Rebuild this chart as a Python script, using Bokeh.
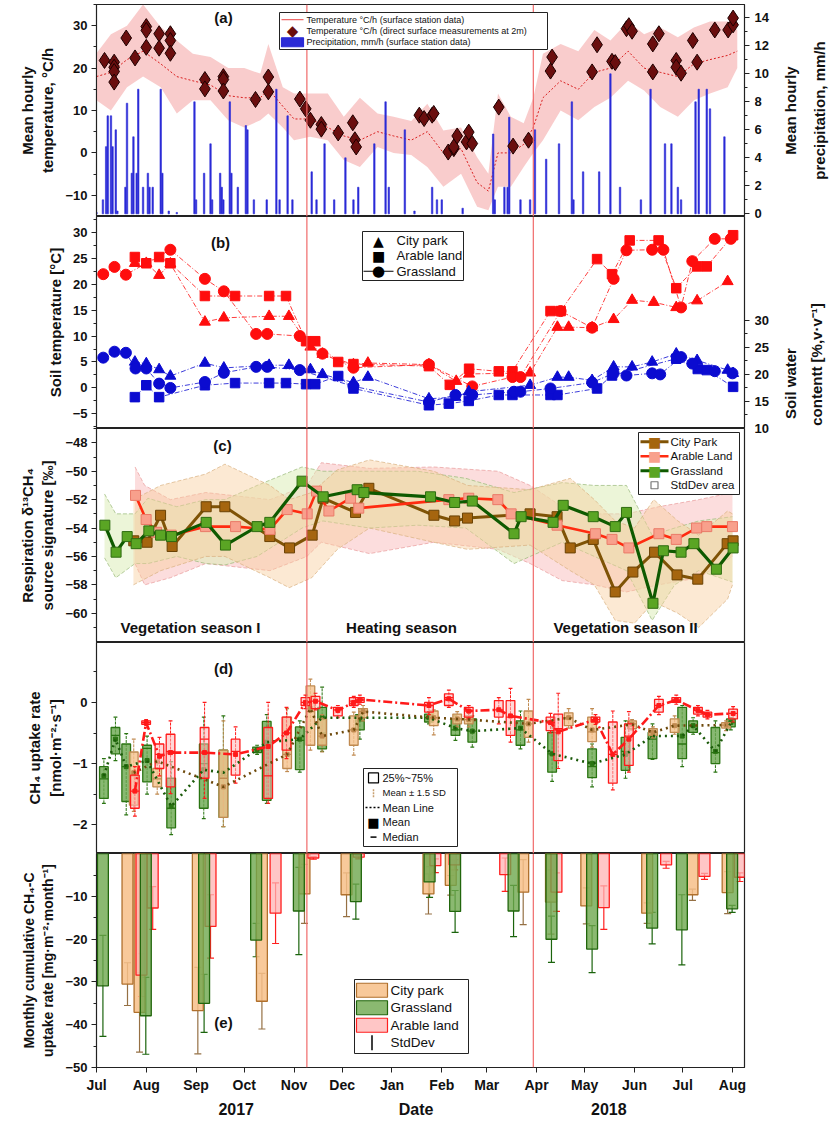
import math
from bokeh.plotting import figure
from bokeh.layouts import column, row
from bokeh.models import (Range1d, LinearAxis, FixedTicker, Span, Label, BoxAnnotation, Arrow,
                          ColumnDataSource, Whisker, TeeHead)
from bokeh.embed import file_html
from bokeh.resources import INLINE

FONT = "Liberation Sans"
SYM = "DejaVu Sans"

# ---------------- common x axis (days since 2017-07-01) ----------------
month_days = [0, 31, 62, 92, 123, 153, 184, 215, 243, 274, 304, 335, 365, 396]
month_labels = ["Jul", "Aug", "Sep", "Oct", "Nov", "Dec", "Jan", "Feb", "Mar", "Apr", "May", "Jun", "Jul", "Aug"]
bottom_row_days = [87, 199, 319]
bottom_row_labels = ["2017", "Date", "2018"]
divider_days = [131, 272]
season_names = ["Vegetation season I", "Heating season", "Vegetation season II"]

# ---------------- (a) air temperature / precipitation ----------------
temp_day = [0, 9, 19, 29, 40, 50, 60, 71, 82, 92, 102, 107, 116, 123, 133, 144, 154, 164, 175, 185,
            196, 206, 216, 227, 237, 244, 250, 258, 266, 272, 278, 289, 300, 310, 320, 331, 341, 351, 362, 372,
            382, 393, 399]
temp_high = [23.5, 28, 30, 35, 29.7, 26.5, 23.4, 22.6, 20, 20, 18.7, 25.7, 15.5, 14, 14, 14, 8.5, 13, 9.3, 8.5,
             7.5, 11.6, 5.3, 6, -1, -4.9, 14, 8.5, 7, 13, 23.4, 25.7, 24, 29, 26.5, 31, 28, 29.6, 27.3, 29.6,
             31, 31, 29]
temp_low = [12.4, 10, 15.5, 18, 15.5, 9.3, 12.4, 12.4, 7.7, 6, 7.7, 9.3, 6, 3, 3.8, 3, -1.7, -3.3, 1.4, 0,
            -0.5, -3.3, -8, -4.9, -12.7, -13.5, -8, -8, -3.3, 0, 3, 10, 7.7, 10.8, 13, 17, 14.7, 10.8, 8.5, 12.4,
            14, 15.5, 20]
temp_mean = [18, 19, 22, 24, 21, 18, 17, 16, 13.5, 13, 13, 15, 11, 8, 8, 6, 4, 3, 5, 4,
             3, 5, 0, 1, -7, -9, 0, 0, 2, 6, 13, 17, 15, 19, 20, 24, 20, 19, 18, 21,
             22, 23, 24]
diamond_day = [5, 11, 11, 11, 11, 18.5, 24, 31, 31, 31, 39, 39, 46, 46, 46, 67.5, 67.5, 79, 79, 79, 99, 107, 107,
               126.6, 130.3, 133.2, 140, 140, 150.5, 159.6, 160.9, 161.7,
               201, 204, 209, 210, 219, 222.5, 222.5, 224.6, 230.4, 231.8, 234, 250.5, 259.4, 269, 282.7, 283.7,
               308.6, 311.7, 321, 323, 330, 331.5, 333.5, 346.4, 346.4, 350.2, 361, 361, 364, 371.3, 374, 385,
               393.3, 396.4, 396.4]
diamond_temp = [21.8, 21.4, 20.2, 19.2, 16.7, 27.1, 22.4, 29.8, 28.9, 24.9, 28.1, 24.7, 28.1, 26.5, 23.5, 17.3, 15.1,
                18, 17.3, 14.6, 12.6, 17.9, 14.4, 12.7, 10.4, 7.7, 6.7, 5.6, 4.7, 7.1, 3.1, 1.4,
                8.9, 8.1, 8.9, 9.3, 0.2, 1.0, 1.4, 4.0, 2.6, 4.9, 2.2, 10.8, 1.6, 3.0, 19.3, 22.6,
                19.1, 25.5, 21.6, 21.3, 29.3, 30, 28.7, 25.7, 19.1, 28.1, 21.8, 20.2, 18.8, 26.5, 21.4, 29,
                29, 30.2, 31.8]
precip_day = [0, 4, 6, 7, 9, 10, 12, 13, 18, 19, 22, 23, 25, 26, 29, 32, 33, 35, 40, 41, 45, 50,
              61, 62, 67, 71, 72, 77, 78, 79, 83, 84, 88, 93, 94, 98, 106, 112, 114, 119, 122,
              134, 137, 142, 148, 155, 160, 163, 173, 180, 182, 192, 198, 209, 212, 215, 228,
              247, 248, 254, 256, 257, 264, 270, 273, 280, 288, 296, 297, 303, 313, 320, 326,
              339, 345, 354, 358, 362, 364, 373, 375, 380, 382, 391]
precip_mm = [0.1, 1.0, 4.8, 7.0, 7.0, 4.8, 6.0, 0.2, 1.9, 7.9, 2.9, 5.5, 2.9, 8.9, 1.9, 2.9, 1.9, 1.9, 8.9, 2.9, 0.2, 0.1,
             8.0, 1.0, 2.9, 5.0, 1.0, 2.9, 1.9, 1.0, 8.0, 2.9, 1.9, 6.3, 6.0, 1.0, 1.0, 8.9, 1.0, 7.0, 1.0,
             3.0, 1.0, 5.0, 1.0, 4.0, 1.0, 1.9, 5.0, 8.0, 1.9, 6.0, 0.2, 1.9, 1.0, 1.0, 0.4,
             5.7, 1.0, 1.9, 1.9, 6.9, 1.0, 1.0, 6.0, 3.9, 5.0, 8.0, 1.0, 3.0, 3.0, 10.0, 1.9,
             1.0, 8.9, 5.0, 5.0, 1.9, 1.0, 8.0, 8.9, 8.9, 7.5, 5.5]
precip_ticks = [0, 2, 4, 6, 8, 10, 12, 14]

# ---------------- (b) soil temperature (red) and soil water content (blue) ----------------
cp_t_day = [23.9, 31, 39, 46, 67.5, 79.3, 107.5, 119.8, 133.2, 140.7, 160, 169,
            207, 224, 232, 270, 287, 294, 308.6, 322, 333.5, 347, 361, 374, 393]
cp_t = [24.0, 24.0, 21.7, 23.9, 12.7, 13.5, 13.8, 13.8, 7.9, 6.5, 4.5, 4.8,
        4.5, 1.3, 2.7, 2.9, 11.7, 11.7, 11.6, 13.2, 16.9, 16.5, 15.5, 16.8, 20.5]
ar_t_day = [23.9, 31, 39, 46, 67.5, 86.3, 107.5, 118, 130.5, 136.2, 150.5, 160,
            207, 220, 232, 250.5, 259, 282.7, 289, 311.7, 321, 332, 350, 361, 374, 380, 396.4]
ar_t = [25.2, 24.0, 25.2, 24.0, 17.7, 17.7, 17.7, 17.7, 9.0, 9.0, 5.0, 4.6,
        4.2, 0.6, 3.7, 3.2, 3.2, 14.8, 14.8, 24.8, 21.9, 28.4, 28.4, 19.2, 23.4, 23.4, 29.4]
gr_t_day = [4.2, 11.2, 18.3, 46, 67.5, 79.3, 99.4, 106.3, 126.6, 140.7, 160,
            207, 234, 259, 264, 289, 308.6, 322, 330, 346, 353, 364, 371, 385, 395]
gr_t = [21.9, 23.3, 21.8, 26.6, 21.0, 18.6, 10.4, 10.4, 10.0, 6.6, 3.9,
        4.5, 0.3, 2.1, 2.1, 14.8, 11.6, 21.0, 26.5, 26.6, 26.6, 15.5, 24.4, 28.7, 28.7]
cp_w_day = [23.9, 31, 39, 46, 67.5, 79.3, 107.5, 119.8, 133.2, 140.7, 160, 169,
            207, 223.5, 231.8, 270, 287, 294, 308.6, 322, 333.5, 346, 361, 374, 393, 396.4]
cp_w = [22.3, 22.0, 20.9, 19.7, 22.1, 21.2, 21.7, 21.7, 20.9, 20.0, 18.5, 19.5,
        15.5, 15.8, 16.8, 18.0, 19.5, 19.5, 18.9, 21.4, 21.4, 22.3, 23.8, 22.6, 20.8, 20.2]
ar_w_day = [23.9, 31, 39, 67.5, 86.3, 107.5, 118, 130.5, 136.2, 150.5, 160,
            207, 219.4, 231.8, 250.5, 259, 282.7, 287, 311.7, 321, 361, 374.4, 380, 396.4]
ar_w = [15.8, 18.0, 15.8, 18.0, 18.4, 18.4, 18.4, 18.2, 18.2, 19.7, 17.4,
        14.3, 14.6, 15.1, 16.2, 16.2, 16.2, 16.2, 17.4, 19.8, 22.9, 21.0, 20.8, 17.7]
gr_w_day = [4.2, 11.2, 18.3, 24.3, 31, 39, 46, 67.5, 79.3, 99.4, 106.3, 126.6, 160,
            207, 223.5, 234, 260, 264, 282.7, 308.6, 322, 330, 346, 351, 364, 371, 385, 396]
gr_w = [23.1, 24.2, 24.0, 21.1, 21.1, 18.3, 17.5, 18.6, 20.3, 21.4, 21.4, 20.8, 17.8,
        14.9, 16.2, 16.2, 16.8, 16.8, 17.4, 18.5, 20.2, 19.8, 20.2, 20.0, 23.2, 22.0, 20.6, 20.2]
swc_ticks = [10, 15, 20, 25, 30]

# ---------------- (c) delta13C source signature ----------------
cp_d_day = [23.2, 31.5, 39.9, 47.1, 68.3, 79.9, 107.9, 120.2, 134.3, 141.1, 161.3, 169.6,
            210.1, 223, 231, 270, 286.8, 295, 309.3, 323, 334, 347.5, 361.5, 374.4, 392.7, 396.4]
cp_d = [-54.9, -55.0, -53.1, -55.3, -52.5, -52.5, -54.6, -55.4, -54.5, -51.9, -52.9, -51.2,
        -53.1, -53.5, -53.3, -53.0, -53.2, -55.4, -54.8, -58.5, -57.1, -55.7, -57.3, -57.6, -55.1, -54.9]
ar_d_day = [24.3, 30.9, 37.4, 46.5, 67.9, 86.6, 108, 118.7, 131.2, 137, 144.7, 158.2, 163.3,
            219.4, 231.8, 249.9, 258.2, 286.8, 310.7, 321, 331.5, 350.2, 361, 373.6, 380, 396]
ar_d = [-51.7, -53.4, -54.3, -54.5, -53.9, -53.9, -54.1, -52.7, -53.0, -51.4, -52.8, -51.9, -52.6,
        -52.0, -51.9, -52.0, -53.0, -53.8, -54.4, -54.8, -55.4, -54.4, -54.8, -54.0, -53.9, -53.9]
gr_d_day = [5.2, 12.2, 19.1, 24.7, 32.6, 39.9, 46.7, 68.3, 80.3, 100, 107.9, 128, 141.1, 162.3, 166.5,
            208, 223, 234, 260, 264.4, 284.3, 290.6, 309.3, 323, 330, 346.5, 353, 364, 372, 386, 396.4]
gr_d = [-53.8, -55.7, -54.6, -55.1, -54.2, -54.5, -54.6, -53.6, -55.2, -53.9, -53.6, -50.7, -51.8, -51.3, -51.5,
        -51.8, -52.2, -52.1, -54.4, -53.2, -53.6, -52.4, -53.2, -53.9, -52.9, -59.3, -55.6, -55.7, -55.1, -56.9, -55.4]
gr_band_day = [5, 12, 24, 32, 50, 68, 80, 100, 128, 141, 170, 200, 230, 260, 290, 310, 330, 346, 360, 375, 396]
gr_band_hi = [-51.6, -53, -53, -51.9, -52.5, -52, -52, -51, -49.7, -50, -50, -50, -50.5, -51.5, -50.8, -51, -51,
              -54.5, -54, -53.5, -53.2]
gr_band_lo = [-56.1, -57.5, -56.5, -56.5, -56, -56.5, -56.6, -56, -54, -53.5, -54, -53.8, -54, -56.5, -55, -56, -57,
              -60.5, -58, -57, -57.8]
cp_band_day = [23, 40, 68, 80, 108, 120, 134, 150, 170, 210, 231, 270, 295, 310, 323, 335, 347, 362, 375, 393, 396]
cp_band_hi = [-52, -51, -50.2, -49.5, -51, -52, -51.5, -49.9, -49.2, -50, -51, -51.3, -50.5, -52, -53.5, -54, -52,
              -53.5, -54.5, -52.8, -53]
cp_band_lo = [-58, -57, -56, -56, -57.5, -58.2, -57.5, -55.5, -54, -55, -55.5, -55.2, -57, -58, -60.5, -60.7, -59.2,
              -60, -61, -59, -58]
ar_band_day = [24, 30, 46, 68, 108, 131, 140, 170, 210, 250, 270, 290, 310, 330, 350, 375, 396]
ar_band_hi = [-49.7, -51, -52, -51.5, -52, -51, -49.4, -49.8, -49.7, -50, -51, -52.5, -53, -53, -52.5, -52, -51.5]
ar_band_lo = [-56.5, -58, -57.5, -56.5, -57, -56, -55, -55.8, -55, -55.5, -56.5, -57.7, -58, -58.5, -58, -57.5, -56]

# ---------------- (d) CH4 uptake rate box plots ----------------
gd_day = [4.6, 11.8, 18.5, 31.5, 46.5, 66.8, 79, 100, 106, 126.6, 140.5, 164,
          207, 223.5, 234, 264, 283.7, 308.6, 329.4, 346.2, 364.7, 371.5, 385.4, 395]
gd_hi = [-0.92, -0.24, -0.51, -0.55, -0.97, -0.24, -0.22, -0.7, -0.2, -0.3, 0.25, -0.1,
         -0.15, -0.22, -0.22, -0.14, -0.35, -0.68, -0.3, -0.35, -0.05, -0.25, -0.3, -0.25]
gd_q3 = [-1.05, -0.41, -0.68, -0.7, -1.24, -0.68, -0.78, -0.73, -0.31, -0.4, -0.08, -0.2,
         -0.19, -0.27, -0.27, -0.3, -0.49, -0.76, -0.57, -0.49, -0.08, -0.3, -0.41, -0.27]
gd_med = [-1.25, -0.54, -1.05, -0.75, -1.73, -1.0, -1.2, -0.77, -0.7, -0.62, -0.5, -0.3,
          -0.25, -0.45, -0.47, -0.45, -0.84, -1.05, -0.8, -0.6, -0.68, -0.38, -0.82, -0.33]
gd_q1 = [-1.57, -0.84, -1.62, -1.3, -2.05, -1.73, -1.88, -0.82, -1.6, -1.1, -0.76, -0.45,
         -0.32, -0.54, -0.65, -0.7, -1.14, -1.23, -1.11, -0.92, -0.92, -0.49, -1.0, -0.4]
gd_lo = [-1.65, -0.95, -1.84, -1.5, -2.16, -1.9, -2.03, -0.85, -1.65, -1.14, -0.8, -0.6,
         -0.35, -0.62, -0.73, -0.76, -1.29, -1.38, -1.24, -0.93, -1.05, -0.52, -1.14, -0.45]
gd_mean = [-1.2, -0.6, -1.05, -0.95, -1.7, -1.1, -1.15, -0.77, -0.65, -0.6, -0.25, -0.25,
           -0.25, -0.42, -0.47, -0.42, -0.84, -1.0, -0.85, -0.55, -0.55, -0.38, -0.8, -0.33]
cd_day = [23.2, 37.8, 79, 118.7, 133.2, 140.5, 160.2, 166,
          210, 224.6, 231.8, 269, 294, 308.6, 333.5, 346.5, 360, 392]
cd_hi = [-0.6, -1.0, -0.3, -0.1, 0.38, -0.2, -0.16, -0.05,
         -0.12, -0.15, -0.18, 0.05, -0.1, -0.1, -0.28, -0.4, -0.22, -0.3]
cd_q3 = [-0.81, -1.08, -0.78, -0.24, 0.27, -0.27, -0.22, -0.1,
         -0.14, -0.19, -0.22, -0.14, -0.17, -0.24, -0.3, -0.43, -0.27, -0.33]
cd_med = [-1.2, -1.25, -1.24, -0.85, -0.15, -0.55, -0.45, -0.15,
          -0.25, -0.27, -0.28, -0.35, -0.25, -0.48, -0.35, -0.49, -0.38, -0.37]
cd_q1 = [-1.68, -1.38, -1.88, -1.08, -0.7, -0.7, -0.7, -0.25,
         -0.38, -0.35, -0.35, -0.57, -0.38, -0.64, -0.43, -0.54, -0.49, -0.42]
cd_lo = [-1.78, -1.5, -2.03, -1.13, -0.78, -0.81, -0.86, -0.3,
         -0.53, -0.4, -0.4, -0.65, -0.42, -0.73, -0.45, -0.58, -0.52, -0.46]
cd_mean = [-1.15, -0.96, -1.38, -0.85, -0.1, -0.55, -0.45, -0.15,
           -0.25, -0.27, -0.28, -0.35, -0.25, -0.45, -0.36, -0.49, -0.38, -0.37]
rd_day = [23.9, 30.9, 39.2, 46.1, 67.3, 86.6, 106.9, 118.3, 130.1, 136.4, 150.3, 160.2, 164,
          207, 219.4, 231.8, 250.5, 257.8, 282.7, 287.5, 310.7, 321.5, 331.5, 350.2, 361, 374.5, 380.4, 396.4]
rd_hi = [-1.05, -0.28, -0.57, -0.3, 0.0, -0.4, 0.0, -0.08, 0.12, 0.15, -0.05, 0.1, 0.12,
         0.08, 0.2, -0.05, 0.08, 0.23, -0.18, 0.15, -0.2, -0.14, -0.15, 0.1, 0.12, -0.05, -0.13, -0.07]
rd_q3 = [-1.19, -0.3, -0.68, -0.52, -0.41, -0.6, -0.41, -0.24, 0.08, 0.1, -0.08, 0.08, 0.08,
         0.0, 0.14, -0.08, 0.03, 0.03, -0.24, -0.19, -0.24, -0.32, -0.35, 0.05, 0.08, -0.08, -0.16, -0.11]
rd_med = [-1.45, -0.33, -0.85, -0.8, -0.6, -0.8, -1.2, -0.5, 0.0, 0.02, -0.12, 0.02, 0.04,
          -0.05, 0.08, -0.14, -0.12, -0.24, -0.33, -0.43, -0.28, -0.85, -0.55, -0.05, 0.04, -0.13, -0.2, -0.18]
rd_q1 = [-1.73, -0.36, -1.08, -1.38, -1.24, -1.19, -1.57, -0.78, -0.05, -0.1, -0.22, -0.05, 0.0,
         -0.16, -0.05, -0.24, -0.24, -0.54, -0.46, -0.95, -0.32, -1.32, -1.03, -0.16, 0.0, -0.19, -0.24, -0.27]
rd_lo = [-1.86, -0.38, -1.2, -1.49, -1.57, -1.32, -1.65, -0.92, -0.1, -0.12, -0.25, -0.08, -0.03,
         -0.2, -0.08, -0.27, -0.35, -0.65, -0.5, -1.08, -0.36, -1.43, -1.14, -0.2, -0.03, -0.22, -0.27, -0.32]
rd_mean = [-1.45, -0.33, -0.88, -0.82, -0.82, -0.85, -0.72, -0.5, 0.0, 0.02, -0.13, 0.0, 0.05,
           -0.05, 0.06, -0.14, -0.12, -0.22, -0.33, -0.48, -0.28, -0.85, -0.6, -0.05, 0.04, -0.13, -0.2, -0.18]

# ---------------- (e) monthly cumulative uptake ----------------
ce_day = [19.3, 26.8, 63.1, 103, 129.5, 155.7, 206.7, 220.6, 265.7, 283, 305, 342.9, 371.1, 393]
ce_val = [-30.5, -37.1, -36.7, -34.5, -9.4, -9.6, -9.4, -7.4, -9.0, -11.3, -12.2, -13.9, -9.6, -9.1]
ce_err = [5.0, 9.3, 10.1, 6.5, 6.9, 5.1, 4.7, 2.3, 7.6, 7.5, 4.2, 2.4, 1.3, 4.9]
ge_day = [4, 30.7, 67, 99.4, 126, 161.5, 207.4, 223.3, 259.7, 283.3, 308.6, 346, 364.5, 395.8]
ge_val = [-30.9, -37.9, -35.0, -20.2, -13.4, -11.2, -6.6, -13.5, -13.4, -20.0, -22.3, -17.4, -17.8, -12.9]
ge_err = [11.8, 9.0, 6.8, 3.9, 10.2, 4.1, 3.6, 4.9, 6.0, 5.4, 5.5, 3.7, 8.2, 0.8]
ae_day = [28, 35, 71, 111.5, 135, 163.3, 211, 223, 254.5, 286.4, 315.9, 354.7, 378.6, 400.6]
ae_val = [-28.4, -12.7, -17.0, -13.9, -1.0, -0.8, -2.8, -2.6, -4.9, -9.0, -12.6, -2.6, -5.3, -5.5]
ae_err = [5.0, 5.0, 7.4, 7.1, 0.3, 0.4, 1.6, 1.2, 3.9, 4.5, 5.1, 0.8, 0.7, 1.0]

# ======================================================================
xr = Range1d(0, 403.5)
LEFT_B, RIGHT_B, TOP_B, BOTTOM_B = 96, 10, 4, 50
FRAME_H = {"a": 212, "b": 212, "c": 214, "d": 211, "e": 214}
TOTAL_H = TOP_B + sum(FRAME_H.values()) + BOTTOM_B
pr_range = (-0.19, 14.95)
swc_range = (10, 49.2)


def style_axis(ax, label_size="15px"):
    ax.axis_label_text_font = FONT
    ax.axis_label_text_font_style = "bold"
    ax.axis_label_text_font_size = label_size
    ax.axis_label_text_color = "#111111"
    ax.major_label_text_font = FONT
    ax.major_label_text_font_style = "bold"
    ax.major_label_text_font_size = "13px"
    ax.major_label_text_color = "#111111"
    ax.axis_line_color = "#222222"
    ax.major_tick_line_color = "#222222"
    ax.minor_tick_line_color = "#222222"
    ax.major_tick_out = 5
    ax.major_tick_in = 0
    ax.minor_tick_out = 3
    ax.minor_tick_in = 0
    ax.axis_label_standoff = 6
    ax.major_label_standoff = 4


def make_fig(fh, yr, top=0, bottom=0, with_x=False):
    p = figure(frame_width=648, frame_height=fh, x_range=xr, y_range=yr,
               output_backend="svg", toolbar_location=None,
               x_axis_location="below" if with_x else None,
               min_border_left=LEFT_B, min_border_right=RIGHT_B, min_border_top=top, min_border_bottom=bottom)
    p.grid.visible = False
    p.outline_line_color = "#222222"
    p.outline_line_width = 1.2
    style_axis(p.yaxis[0])
    for d in divider_days:
        p.add_layout(Span(location=d, dimension="height", line_color="#f06a6a", line_width=1.2))
    return p


def screen_label(p, text, x, y, size="15px", bold=True, align="center", font=FONT, color="#111111", angle=0.0):
    p.add_layout(Label(x=x, y=y, x_units="screen", y_units="screen", text=text, angle=angle,
                       text_font=font, text_font_style="bold" if bold else "normal", text_font_size=size,
                       text_align=align, text_baseline="middle", text_color=color))


def sline(p, xa, ya, xb, yb, color, width=1.0, dash="solid"):
    p.add_layout(Arrow(x_start=xa, y_start=ya, x_end=xb, y_end=yb, start_units="screen", end_units="screen",
                       start=None, end=None, line_color=color, line_width=width, line_dash=dash))


def sbox(p, l, r, b, t, fill, alpha, line, lw=1.0):
    p.add_layout(BoxAnnotation(left=l, right=r, bottom=b, top=t, left_units="screen", right_units="screen",
                               bottom_units="screen", top_units="screen", fill_color=fill, fill_alpha=alpha,
                               line_color=line, line_alpha=1.0, line_width=lw))


def manual_legend(p, x0, top, w, h, rows, row_h, pad, gx, gw, tx, fsize):
    """rows: (glyph list, label, font size or None). coordinates in frame pixels."""
    sbox(p, x0, x0 + w, top - h, top, "white", 1.0, "#222222", 1.0)
    for i, (glyphs, text, fs) in enumerate(rows):
        cy = top - pad - row_h * (i + 0.5)
        g0, g1 = x0 + gx, x0 + gx + gw
        gc = (g0 + g1) / 2
        for g in glyphs:
            k = g[0]
            if k == "line":
                sline(p, g0, cy, g1, cy, g[1], g[2], g[3])
            elif k == "hline":
                sline(p, gc - g[3] / 2, cy, gc + g[3] / 2, cy, g[1], g[2])
            elif k == "vline":
                sline(p, gc, cy - g[3] / 2, gc, cy + g[3] / 2, g[1], g[2], g[4])
            elif k == "char":
                screen_label(p, g[1], gc, cy, size=g[3], bold=False, font=SYM, color=g[2])
            elif k == "box":
                sbox(p, gc - g[4] / 2, gc + g[4] / 2, cy - g[5] / 2, cy + g[5] / 2, g[1], g[2], g[3], 1.2)
        screen_label(p, text, x0 + tx, cy, size=fs or fsize, bold=False, align="left", color="#111111")


def blank_labels(ticks):
    return {t: "" for t in ticks}


# ---------------- panel (a) ----------------
pa = make_fig(FRAME_H["a"], Range1d(-15, 35), top=TOP_B)
pa.yaxis[0].ticker = FixedTicker(ticks=[-10, 0, 10, 20, 30], minor_ticks=[-15, -5, 5, 15, 25, 35])
pa.yaxis[0].axis_label = "Mean hourly\ntemperature, °C/h"
pa.extra_y_ranges = {"pr": Range1d(*pr_range)}
ax_pr = LinearAxis(y_range_name="pr", major_label_overrides=blank_labels(precip_ticks),
                   ticker=FixedTicker(ticks=precip_ticks, minor_ticks=list(range(1, 15, 2))))
style_axis(ax_pr)
pa.add_layout(ax_pr, "right")

pa.varea(x=temp_day, y1=temp_low, y2=temp_high, fill_color="#f39a9a", fill_alpha=0.5)
pa.line(temp_day, temp_mean, line_color="#d81e1e", line_width=1, line_dash="2 2")
pa.vbar(x=precip_day, top=precip_mm, bottom=0, width=0.9, y_range_name="pr",
        fill_color="#2b2bd6", line_color="#2b2bd6", line_width=0.6)
pa.scatter(diamond_day, diamond_temp, marker="diamond", size=16, fill_color="#6a0e0e",
           line_color="#1e0000", line_width=1)
manual_legend(pa, 183, 204, 268, 37, [
    ([("line", "#f06a6a", 1.2, "solid")], "Temperature °C/h (surface station data)", None),
    ([("char", "◆", "#6a0e0e", "15px")], "Temperature °C/h (direct surface measurements at 2m)", None),
    ([("box", "#2b2bd6", 1.0, "#2b2bd6", 22, 9)], "Precipitation, mm/h (surface station data)", None),
], 11.3, 1.5, 2, 22, 27, "9px")
screen_label(pa, "(a)", 127, 199)

# ---------------- panel (b) ----------------
RED, BLUE = "#ff0d0d", "#0b0bd0"
pb = make_fig(FRAME_H["b"], Range1d(-7.8, 33))
pb.yaxis[0].ticker = FixedTicker(ticks=[-5, 0, 5, 10, 15, 20, 25, 30],
                                 minor_ticks=[-7.5, -2.5, 2.5, 7.5, 12.5, 17.5, 22.5, 27.5, 32.5])
pb.yaxis[0].axis_label = "Soil temperature [°C]"
pb.extra_y_ranges = {"swc": Range1d(*swc_range)}
ax_w = LinearAxis(y_range_name="swc", bounds=(10, 31), major_label_overrides=blank_labels(swc_ticks),
                  ticker=FixedTicker(ticks=swc_ticks, minor_ticks=[12.5, 17.5, 22.5, 27.5]))
style_axis(ax_w)
pb.add_layout(ax_w, "right")

for days, vals, mk, col, rng in [
    (cp_t_day, cp_t, "triangle", RED, "default"), (ar_t_day, ar_t, "square", RED, "default"),
    (gr_t_day, gr_t, "circle", RED, "default"),
    (cp_w_day, cp_w, "triangle", BLUE, "swc"), (ar_w_day, ar_w, "square", BLUE, "swc"),
    (gr_w_day, gr_w, "circle", BLUE, "swc")]:
    pb.line(days, vals, line_color=col, line_width=0.8, line_dash="5 2 1 2", y_range_name=rng)
    pb.scatter(days, vals, marker=mk, size=11 if mk != "square" else 9.5, fill_color=col,
               line_color=col, y_range_name=rng)
manual_legend(pb, 266, 197, 101, 49, [
    ([("char", "▲", "black", "14px")], "City park", None),
    ([("char", "■", "black", "14px")], "Arable land", None),
    ([("line", "black", 1.0, "solid"), ("char", "●", "black", "15px")], "Grassland", None),
], 15.3, 1.5, 1, 30, 34, "13px")
screen_label(pb, "(b)", 124, 186)

# ---------------- panel (c) ----------------
pc = make_fig(FRAME_H["c"], Range1d(-62.06, -46.99))
pc.yaxis[0].ticker = FixedTicker(ticks=[-60, -58, -56, -54, -52, -50, -48],
                                 minor_ticks=[-61, -59, -57, -55, -53, -51, -49, -47])
pc.yaxis[0].axis_label = "Respiration δ¹³CH₄\nsource signature [‰]"

for bd, bh, bl, fc, lc, fa in [
    (ar_band_day, ar_band_hi, ar_band_lo, "#f9b4b4", "#e89a9a", 0.45),
    (gr_band_day, gr_band_hi, gr_band_lo, "#dcedb8", "#98b878", 0.55),
    (cp_band_day, cp_band_hi, cp_band_lo, "#f8cf9e", "#d9b080", 0.45)]:
    pc.varea(x=bd, y1=bl, y2=bh, fill_color=fc, fill_alpha=fa)
    pc.line(bd, bh, line_color=lc, line_width=0.7, line_dash="4 2")
    pc.line(bd, bl, line_color=lc, line_width=0.7, line_dash="4 2")

pc.line(cp_d_day, cp_d, line_color="#7f5306", line_width=3)
pc.scatter(cp_d_day, cp_d, marker="square", size=10, fill_color="#a5650f", line_color="#6a4204")
pc.line(ar_d_day, ar_d, line_color="#ff2b10", line_width=2.6)
pc.scatter(ar_d_day, ar_d, marker="square", size=10, fill_color="#f8a08c", line_color="#ea7a68")
pc.line(gr_d_day, gr_d, line_color="#0e5a00", line_width=3.2)
pc.scatter(gr_d_day, gr_d, marker="square", size=10, fill_color="#5aa524", line_color="#2e6c10")
manual_legend(pc, 542, 210, 101, 62, [
    ([("line", "#7f5306", 3, "solid"), ("char", "■", "#a5650f", "14px")], "City Park", None),
    ([("line", "#ff2b10", 2.6, "solid"), ("char", "■", "#f8a08c", "14px")], "Arable Land", None),
    ([("line", "#0e5a00", 3, "solid"), ("char", "■", "#5aa524", "14px")], "Grassland", None),
    ([("box", "white", 1.0, "#777777", 7, 7)], "StdDev area", None),
], 14.5, 2, 2, 28, 32, "11.5px")
screen_label(pc, "(c)", 126, 197)
for name, xs in zip(season_names, [94, 305, 529]):
    screen_label(pc, name, xs, 15, size="15px")

# ---------------- panel (d) ----------------
pd_ = make_fig(FRAME_H["d"], Range1d(-2.47, 0.98))
pd_.yaxis[0].ticker = FixedTicker(ticks=[-2, -1, 0], minor_ticks=[-2.5, -1.5, -0.5, 0.5])
pd_.yaxis[0].axis_label = "CH₄ uptake rate\n[nmol·m⁻²·s⁻¹]"


def box_plot(p, day, hi, q3, med, q1, lo, mean, fill, falpha, line):
    src = ColumnDataSource(dict(x=day, hi=hi, q3=q3, med=med, q1=q1, lo=lo, mean=mean,
                                cl=[d - 1.2 for d in day], cr=[d + 1.2 for d in day],
                                ml=[d - 2.7 for d in day], mr=[d + 2.7 for d in day]))
    p.segment(x0="x", y0="lo", x1="x", y1="hi", source=src, line_color=line, line_width=1, line_dash="3 1")
    p.segment(x0="cl", y0="hi", x1="cr", y1="hi", source=src, line_color=line, line_width=1.2)
    p.segment(x0="cl", y0="lo", x1="cr", y1="lo", source=src, line_color=line, line_width=1.2)
    p.vbar(x="x", bottom="q1", top="q3", width=5.4, source=src, fill_color=fill, fill_alpha=falpha,
           line_color=line, line_width=1.3)
    p.segment(x0="ml", y0="med", x1="mr", y1="med", source=src, line_color=line, line_width=1.3)
    p.scatter(x="x", y="mean", source=src, marker="square", size=4, fill_color=line, line_color=line)


box_plot(pd_, gd_day, gd_hi, gd_q3, gd_med, gd_q1, gd_lo, gd_mean, "#6aa84f", 0.8, "#2a7412")
box_plot(pd_, cd_day, cd_hi, cd_q3, cd_med, cd_q1, cd_lo, cd_mean, "#f5c28c", 0.8, "#c08a50")
box_plot(pd_, rd_day, rd_hi, rd_q3, rd_med, rd_q1, rd_lo, rd_mean, "#ffb8b8", 0.55, "#ff1a1a")
pd_.line(gd_day, gd_mean, line_color="#1b5a0a", line_width=2.6, line_dash="2 4")
pd_.line(cd_day, cd_mean, line_color="#6e4a0c", line_width=2.6, line_dash="2 4")
pd_.line(rd_day, rd_mean, line_color="#ff1a1a", line_width=2.6, line_dash="9 3 2 3")
manual_legend(pd_, 267, 85, 94, 78, [
    ([("box", "white", 1.0, "black", 10, 10)], "25%~75%", "11px"),
    ([("vline", "#c8a070", 1.5, 9, "2 1")], "Mean ± 1.5 SD", "9.5px"),
    ([("line", "black", 1.5, "2 2")], "Mean Line", "11px"),
    ([("char", "■", "black", "13px")], "Mean", "11px"),
    ([("hline", "black", 1.5, 6)], "Median", "11px"),
], 14.8, 2, 2, 16, 19, "11px")
screen_label(pd_, "(d)", 127, 185)

# ---------------- panel (e) ----------------
pe = make_fig(FRAME_H["e"], Range1d(-50, 0.05), bottom=BOTTOM_B, with_x=True)
pe.yaxis[0].ticker = FixedTicker(ticks=[-50, -40, -30, -20, -10], minor_ticks=[-45, -35, -25, -15, -5])
pe.yaxis[0].axis_label = "Monthly cumulative CH₄-C\nuptake rate [mg·m⁻²·month⁻¹]"
pe.yaxis[0].axis_label_text_font_size = "14px"
xa = pe.xaxis[0]
style_axis(xa)
xa.ticker = FixedTicker(ticks=month_days, minor_ticks=[])
xa.major_label_overrides = {d: lab for d, lab in zip(month_days, month_labels)}
xa.major_label_text_font_size = "14px"
xb = LinearAxis(ticker=FixedTicker(ticks=bottom_row_days, minor_ticks=[]),
                major_label_overrides={d: lab for d, lab in zip(bottom_row_days, bottom_row_labels)})
style_axis(xb)
xb.axis_line_color = None
xb.major_tick_line_color = None
xb.major_tick_out = 0
xb.major_label_standoff = 5
xb.major_label_text_font_size = "16px"
pe.add_layout(xb, "below")

for key, days, vals, errs, fc, lc, ec, fa in [
    ("cp", ce_day, ce_val, ce_err, "#f7bf88", "#b0702c", "#957044", 0.85),
    ("ar", ae_day, ae_val, ae_err, "#ffb3b3", "#ff1f1f", "#ff1f1f", 0.75),
    ("gr", ge_day, ge_val, ge_err, "#6ea84e", "#21660c", "#1b640c", 0.8)]:
    src = ColumnDataSource(dict(x=days, v=vals, u=[v + e for v, e in zip(vals, errs)],
                                l=[v - e for v, e in zip(vals, errs)]))
    pe.vbar(x="x", top=0, bottom="v", width=6.8, source=src, fill_color=fc, fill_alpha=fa,
            line_color=lc, line_width=1.3)
    pe.add_layout(Whisker(source=src, base="x", upper="u", lower="l", line_color=ec, line_width=1.2,
                          upper_head=TeeHead(size=7, line_color=ec, line_width=1.2),
                          lower_head=TeeHead(size=7, line_color=ec, line_width=1.2)))
manual_legend(pe, 258, 88, 114, 74, [
    ([("box", "#f7bf88", 0.85, "#b0702c", 31, 14)], "City park", None),
    ([("box", "#6ea84e", 0.8, "#21660c", 31, 14)], "Grassland", None),
    ([("box", "#ffb3b3", 0.75, "#ff1f1f", 31, 14)], "Arable land", None),
    ([("vline", "black", 1.5, 15, "solid")], "StdDev", None),
], 17.5, 2, 2, 31, 36, "13.5px")
screen_label(pe, "(e)", 127, 45)

# ---------------- right-hand strip: secondary-axis tick labels and titles ----------------
side = figure(width=830 - (LEFT_B + 648 + RIGHT_B), height=TOTAL_H, x_range=Range1d(0, 1), y_range=Range1d(0, 1),
              output_backend="svg", toolbar_location=None, x_axis_location=None, y_axis_location=None,
              min_border=0)
side.outline_line_color = None
side.grid.visible = False


def page_y(top, height, rng, v):
    return top + (rng[1] - v) / (rng[1] - rng[0]) * height


a_top = TOP_B
b_top = TOP_B + FRAME_H["a"]
for v in precip_ticks:
    screen_label(side, str(v), 0, TOTAL_H - page_y(a_top, FRAME_H["a"], pr_range, v), size="13px", align="left")
for v in swc_ticks:
    screen_label(side, str(v), 0, TOTAL_H - page_y(b_top, FRAME_H["b"], swc_range, v), size="13px", align="left")
screen_label(side, "Mean hourly", 36, TOTAL_H - 110, angle=math.pi / 2)
screen_label(side, "precipitation, mm/h", 65, TOTAL_H - 110, angle=math.pi / 2)
screen_label(side, "Soil water", 36, TOTAL_H - 383, angle=math.pi / 2)
screen_label(side, "contentt [%,v·v⁻¹]", 62, TOTAL_H - 364, angle=math.pi / 2)

layout = row(column(pa, pb, pc, pd_, pe, spacing=0), side, spacing=0)
open("out.html", "w").write(file_html(layout, INLINE))
